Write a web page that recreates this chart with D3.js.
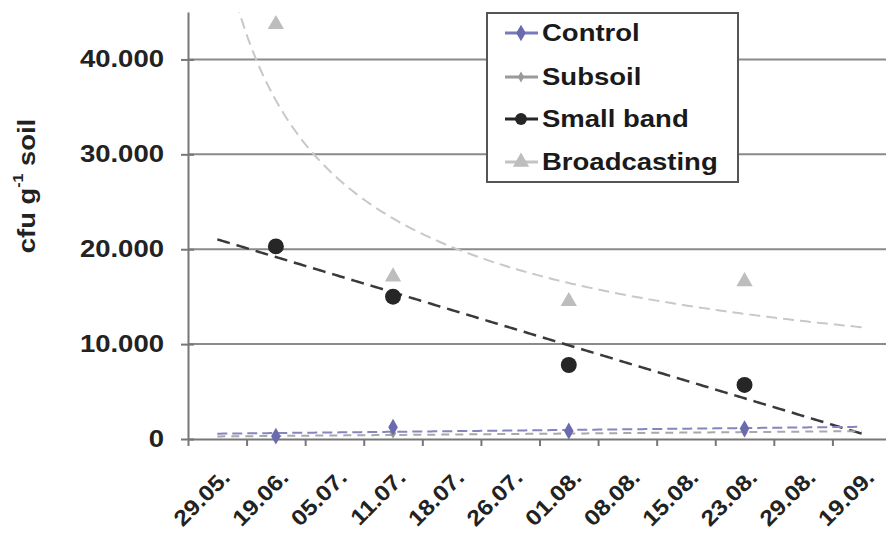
<!DOCTYPE html>
<html>
<head>
<meta charset="utf-8">
<script src="https://cdn.jsdelivr.net/npm/d3@7/dist/d3.min.js"></script>
<style>
  html, body { margin: 0; padding: 0; background: #fff; }
  svg { display: block; font-family: "Liberation Sans", Arial, sans-serif; font-weight: bold; }
</style>
</head>
<body>
<div id="chart"></div>
<script>
// data (only four sampling dates carry values)
const dates = ["29.05.", "19.06.", "05.07.", "11.07.", "18.07.", "26.07.", "01.08.", "08.08.", "15.08.", "23.08.", "29.08.", "19.09."];
const control = [null, 300, null, 1250, null, null, 850, null, null, 1100, null, null];
const subsoil = [null, 200, null, 600, null, null, 550, null, null, 700, null, null];
const smallBand = [null, 20300, null, 15000, null, null, 7800, null, null, 5700, null, null];
const broadcasting = [null, 43700, null, 17100, null, null, 14500, null, null, 16600, null, null];
const seriesNames = ["Control", "Subsoil", "Small band", "Broadcasting"];
const yTicks = [0, 10000, 20000, 30000, 40000];

(function () {
    const W = 886, H = 540;
    const left = 188, right = 891, top = 12, bottom = 439;
    const TEXT_STRETCH = 1.17; // glyphs in the figure are wider than Liberation Sans

    const svg = d3.select("#chart").append("svg")
        .attr("width", W).attr("height", H);

    // scales
    const x = d3.scaleBand().domain(dates).range([left, right]);
    // category i sits at i+1 on a continuous scale (for trend lines and tick marks)
    const xi = d3.scaleLinear().domain([0.5, dates.length + 0.5]).range([left, right]);
    const y = d3.scaleLinear().domain([0, 45000]).range([bottom, top]);

    const fmt = d3.formatLocale({ decimal: ",", thousands: ".", grouping: [3], currency: ["", ""] }).format(",");

    function stretch(sel, k) {
        sel.each(function () {
            const w = this.getComputedTextLength();
            d3.select(this).attr("textLength", w * k).attr("lengthAdjust", "spacingAndGlyphs");
        });
    }

    // gridlines
    svg.append("g").selectAll("line")
        .data(yTicks.filter(t => t > 0))
        .enter().append("line")
        .attr("x1", left).attr("x2", W)
        .attr("y1", d => y(d)).attr("y2", d => y(d))
        .attr("stroke", "#8a8a8a").attr("stroke-width", 2);

    // y axis with crossing ticks
    const yAxis = svg.append("g")
        .attr("transform", `translate(${left},0)`)
        .call(d3.axisLeft(y).tickValues(yTicks).tickFormat(fmt).tickSizeInner(7).tickSizeOuter(0).tickPadding(17));
    yAxis.select(".domain").attr("stroke", "#777").attr("stroke-width", 2);
    yAxis.selectAll(".tick line").attr("x2", 6).attr("x1", -7).attr("stroke", "#777").attr("stroke-width", 2);
    yAxis.selectAll("text").attr("font-size", 23.5).attr("fill", "#222").attr("font-family", null);
    stretch(yAxis.selectAll("text"), TEXT_STRETCH);

    // x axis: tick marks between categories, labels on the categories
    const xTicks = svg.append("g")
        .attr("transform", `translate(0,${bottom})`)
        .call(d3.axisBottom(xi).tickValues(d3.range(0.5, dates.length + 1, 1)).tickFormat("").tickSizeInner(7).tickSizeOuter(0));
    xTicks.select(".domain").attr("stroke", "#777").attr("stroke-width", 2);
    xTicks.selectAll(".tick line").attr("stroke", "#777").attr("stroke-width", 2);

    const xLabels = svg.append("g")
        .attr("transform", `translate(0,${bottom})`)
        .call(d3.axisBottom(x).tickSize(0));
    xLabels.select(".domain").remove();
    xLabels.selectAll("text")
        .attr("y", null).attr("dy", null)
        .attr("font-size", 22).attr("fill", "#222").attr("font-family", null)
        .attr("text-anchor", "end")
        .attr("transform", "translate(14,40) rotate(-45)");
    stretch(xLabels.selectAll("text"), 1.12);

    // y title
    const yTitle = svg.append("text")
        .attr("transform", "translate(26,186) rotate(-90)")
        .attr("text-anchor", "middle")
        .attr("dominant-baseline", "central")
        .attr("font-size", 24).attr("fill", "#222");
    yTitle.append("tspan").text("cfu g");
    yTitle.append("tspan").attr("font-size", 14).attr("baseline-shift", "super").text("-1");
    yTitle.append("tspan").text(" soil");
    stretch(yTitle, 1.14);

    // trend lines (Excel style fits over category index 1..12)
    function linearFit(vals) {
        const pts = vals.map((v, i) => [i + 1, v]).filter(p => p[1] != null);
        const mx = d3.mean(pts, p => p[0]), my = d3.mean(pts, p => p[1]);
        const b = d3.sum(pts, p => (p[0] - mx) * (p[1] - my)) / d3.sum(pts, p => (p[0] - mx) ** 2);
        const a = my - b * mx;
        return t => a + b * t;
    }
    function powerFit(vals) {
        const pts = vals.map((v, i) => [Math.log(i + 1), Math.log(v)]).filter((p, i) => vals[i] != null);
        const mx = d3.mean(pts, p => p[0]), my = d3.mean(pts, p => p[1]);
        const b = d3.sum(pts, p => (p[0] - mx) * (p[1] - my)) / d3.sum(pts, p => (p[0] - mx) ** 2);
        const c = Math.exp(my - b * mx);
        return t => c * Math.pow(t, b);
    }

    svg.append("clipPath").attr("id", "plot-clip")
        .append("rect").attr("x", left).attr("y", top).attr("width", right - left).attr("height", bottom - top);

    const trendGrid = d3.range(1, dates.length + 0.001, 0.05);
    const trendLine = f => d3.line().x(t => xi(t)).y(t => y(f(t)))(trendGrid);
    const trends = [
        { f: powerFit(broadcasting), color: "#c8c8c8", width: 2, dash: "11,6" },
        { f: linearFit(smallBand), color: "#3a3a3a", width: 2.5, dash: "13,7" },
        { f: linearFit(subsoil), color: "#a8a8a8", width: 2, dash: "8,6" },
        { f: linearFit(control), color: "#8585c0", width: 2, dash: "10,5" }
    ];
    svg.append("g").attr("clip-path", "url(#plot-clip)")
        .selectAll("path").data(trends).enter().append("path")
        .attr("d", d => trendLine(d.f))
        .attr("fill", "none")
        .attr("stroke", d => d.color)
        .attr("stroke-width", d => d.width)
        .attr("stroke-dasharray", d => d.dash);

    // markers
    const styles = [
        { vals: control, symbol: d3.symbolDiamond, size: 80, color: "#6a6aae", line: "#7a7ab8" },
        { vals: subsoil, symbol: d3.symbolDiamond, size: 35, color: "#9a9a9a", line: "#9a9a9a" },
        { vals: smallBand, symbol: d3.symbolCircle, size: 200, color: "#262626", line: "#262626" },
        { vals: broadcasting, symbol: d3.symbolTriangle, size: 115, color: "#bdbdbd", line: "#c4c4c4" }
    ];
    const drawOrder = [1, 0, 2, 3];
    drawOrder.forEach(k => {
        const s = styles[k];
        svg.append("g").selectAll("path")
            .data(dates.map((d, i) => ({ d, v: s.vals[i] })).filter(p => p.v != null))
            .enter().append("path")
            .attr("d", d3.symbol().type(s.symbol).size(s.size))
            .attr("transform", p => `translate(${x(p.d) + x.bandwidth() / 2},${y(p.v)})`)
            .attr("fill", s.color);
    });

    // legend
    const legend = svg.append("g").attr("transform", "translate(487,13)");
    legend.append("rect")
        .attr("width", 251).attr("height", 169)
        .attr("fill", "#fff").attr("stroke", "#555").attr("stroke-width", 2);
    const rows = [20, 64, 106, 149];
    seriesNames.forEach((name, i) => {
        const s = styles[i];
        const row = legend.append("g").attr("transform", `translate(0,${rows[i]})`);
        row.append("line").attr("x1", 18).attr("x2", 51)
            .attr("stroke", s.line).attr("stroke-width", 3);
        row.append("path")
            .attr("d", d3.symbol().type(s.symbol).size(i === 2 ? 110 : s.size))
            .attr("transform", "translate(34,0)")
            .attr("fill", s.color);
        const t = row.append("text").attr("x", 55).attr("dy", "0.36em")
            .attr("font-size", 23.5).attr("fill", "#1a1a1a").text(name);
        stretch(t, TEXT_STRETCH);
    });
})();
</script>
</body>
</html>
